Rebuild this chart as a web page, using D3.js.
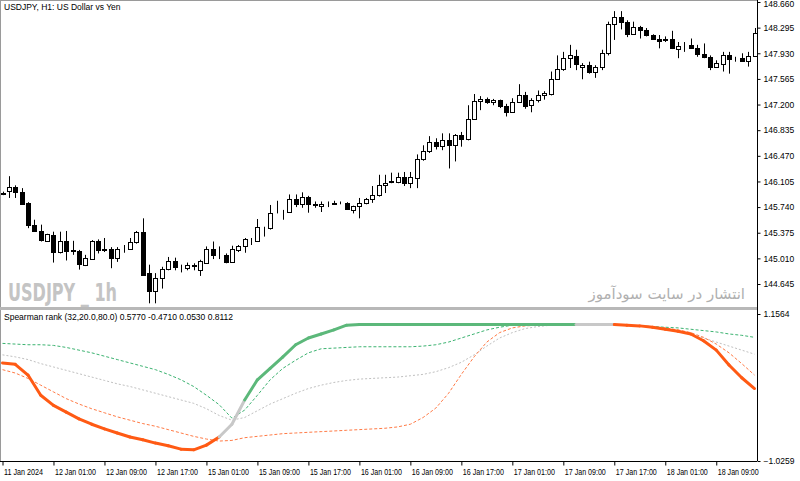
<!DOCTYPE html>
<html>
<head>
<meta charset="utf-8">
<script src="https://cdn.jsdelivr.net/npm/d3@7"></script>
<style>
  body { margin: 0; background: #fff; }
  svg { display: block; }
  text { font-family: "Liberation Sans", Arial, sans-serif; }
</style>
</head>
<body>
<div class="js-chart"></div>
<script>
// USDJPY H1 candles, one per hour, bar 0 = 11 Jan 2024 17:00
let opens  = [145.93,145.97,146.03,145.95,145.80,145.49,145.40,145.26,145.34,145.10,145.26,145.13,145.12,144.92,145.00,145.26,145.13,145.15,145.01,145.15,
              145.14,145.25,145.38,144.80,144.55,144.73,144.86,144.97,144.88,144.87,144.90,144.85,144.95,145.15,145.06,145.06,144.96,145.13,145.18,145.27,
              145.26,145.45,145.44,145.66,145.67,145.67,145.85,145.78,145.88,145.79,145.76,145.79,145.79,145.80,145.80,145.70,145.75,145.80,145.85,145.91,
              146.05,146.10,146.10,146.17,146.09,146.16,146.43,146.54,146.67,146.61,146.69,146.63,146.76,146.71,147.00,147.25,147.28,147.24,147.27,147.18,
              147.10,147.24,147.33,147.19,147.26,147.33,147.35,147.57,147.70,147.86,147.89,147.73,147.76,147.67,147.73,147.93,148.34,148.44,148.38,148.21,
              148.31,148.26,148.19,148.14,148.12,148.13,147.99,148.04,148.05,148.01,147.92,147.88,147.74,147.78,147.90,147.85,147.86,147.82,147.89];
let highs  = [145.96,146.18,146.05,146.01,145.81,145.56,145.49,145.36,145.39,145.39,145.40,145.26,145.13,145.06,145.27,145.28,145.30,145.17,145.17,145.20,
              145.30,145.40,145.58,144.92,144.80,144.89,145.03,145.02,144.92,144.95,144.94,144.99,145.18,145.25,145.18,145.08,145.19,145.20,145.30,145.30,
              145.57,145.46,145.77,145.83,145.70,145.92,145.92,145.95,145.90,145.82,145.82,145.82,145.83,145.82,145.81,145.76,145.87,145.87,146.04,146.20,
              146.20,146.23,146.23,146.24,146.24,146.49,146.62,146.75,146.72,146.79,146.79,146.78,146.81,147.19,147.35,147.32,147.30,147.28,147.27,147.21,
              147.29,147.49,147.38,147.29,147.40,147.39,147.67,147.90,147.95,148.05,147.98,147.79,147.81,147.76,147.98,148.38,148.53,148.53,148.40,148.38,
              148.32,148.29,148.20,148.19,148.17,148.25,148.09,148.09,148.14,148.05,148.07,147.90,147.83,147.95,147.95,147.88,147.93,147.95,148.29];
let lows   = [145.91,145.87,145.87,145.78,145.44,145.39,145.25,145.25,144.95,145.08,144.98,145.06,144.85,144.90,144.99,145.08,145.10,144.87,144.96,145.09,
              145.13,145.22,144.76,144.37,144.37,144.58,144.84,144.84,144.81,144.84,144.84,144.76,144.94,145.00,145.00,144.94,144.95,145.10,145.09,145.20,
              145.25,145.32,145.42,145.65,145.56,145.66,145.74,145.73,145.66,145.73,145.67,145.74,145.77,145.78,145.70,145.65,145.58,145.78,145.80,145.89,
              145.94,146.08,146.08,146.04,146.01,146.01,146.40,146.51,146.56,146.55,146.29,146.39,146.60,146.69,146.98,147.12,147.21,147.19,147.15,147.03,
              147.09,147.23,147.14,147.09,147.23,147.27,147.33,147.56,147.68,147.72,147.69,147.56,147.64,147.58,147.69,147.90,148.12,148.27,148.16,148.20,
              148.14,148.17,148.12,148.00,148.09,147.99,147.86,147.95,148.00,147.88,147.86,147.69,147.72,147.67,147.64,147.81,147.81,147.74,147.90];
let closes = [145.94,146.03,145.96,145.79,145.49,145.40,145.27,145.35,145.10,145.26,145.12,145.12,144.93,145.01,145.26,145.13,145.14,145.01,145.15,145.14,
              145.25,145.39,144.77,144.55,144.73,144.86,144.97,144.88,144.88,144.91,144.91,144.97,145.15,145.06,145.06,144.96,145.14,145.18,145.28,145.27,
              145.45,145.45,145.66,145.66,145.67,145.85,145.78,145.88,145.78,145.77,145.79,145.79,145.80,145.80,145.71,145.75,145.80,145.86,145.91,146.05,
              146.09,146.11,146.17,146.09,146.17,146.43,146.54,146.66,146.61,146.70,146.63,146.77,146.71,147.00,147.25,147.28,147.23,147.27,147.18,147.10,
              147.24,147.33,147.18,147.26,147.33,147.36,147.57,147.70,147.86,147.90,147.78,147.76,147.66,147.74,147.94,148.34,148.44,148.38,148.21,148.31,
              148.26,148.19,148.14,148.11,148.13,148.00,148.04,148.04,148.01,147.92,147.87,147.74,147.79,147.90,147.85,147.85,147.82,147.89,148.22];

let priceTicks = [148.660,148.295,147.930,147.565,147.200,146.835,146.470,146.105,145.740,145.375,145.010,144.645];
let timeTickBars = [0,8,16,24,32,40,48,56,64,72,80,88,96,104,112];
let timeLabels = ["11 Jan 2024","12 Jan 01:00","12 Jan 09:00","12 Jan 17:00","15 Jan 01:00","15 Jan 09:00","15 Jan 17:00","16 Jan 01:00",
                  "16 Jan 09:00","16 Jan 17:00","17 Jan 01:00","17 Jan 09:00","17 Jan 17:00","18 Jan 01:00","18 Jan 09:00"];

// Spearman rank (0,2,...,118)
let rankBars = d3.range(0, 119, 2);
let rankMain   = [0.43,0.41,0.25,-0.05,-0.20,-0.30,-0.40,-0.48,-0.55,-0.61,-0.67,-0.71,-0.76,-0.80,-0.85,-0.86,-0.79,-0.67,-0.48,-0.12,
                  0.18,0.35,0.52,0.70,0.80,0.86,0.92,0.99,1.00,1.00,1.00,1.00,1.00,1.00,1.00,1.00,1.00,1.00,1.00,1.00,
                  1.00,1.00,1.00,1.00,1.00,1.00,1.00,1.00,1.00,0.99,0.98,0.96,0.93,0.90,0.86,0.76,0.62,0.40,0.21,0.05];
// 1 = rising (green), -1 = falling (orange), 0 = neutral
let rankTrend  = [-1,-1,-1,-1,-1,-1,-1,-1,-1,-1,-1,-1,-1,-1,-1,-1,-1,-1,0,0,
                  1,1,1,1,1,1,1,1,1,1,1,1,1,1,1,1,1,1,1,1,
                  1,1,1,1,1,1,0,0,0,-1,-1,-1,-1,-1,-1,-1,-1,-1,-1,-1];
let rankGreen  = [0.72,0.71,0.70,0.70,0.69,0.66,0.62,0.58,0.53,0.48,0.43,0.38,0.33,0.26,0.18,0.08,-0.05,-0.19,-0.39,-0.27,
                  -0.05,0.18,0.35,0.47,0.58,0.64,0.65,0.66,0.67,0.67,0.67,0.67,0.67,0.68,0.70,0.74,0.80,0.86,0.92,0.96,
                  0.99,0.99,0.99,0.99,0.99,0.99,0.99,0.99,0.99,0.99,0.98,0.97,0.96,0.95,0.93,0.91,0.89,0.86,0.84,0.81];
let rankGray   = [0.55,0.52,0.48,0.42,0.37,0.32,0.27,0.22,0.17,0.12,0.08,0.03,-0.02,-0.07,-0.12,-0.17,-0.25,-0.35,-0.42,-0.38,
                  -0.28,-0.18,-0.10,-0.02,0.05,0.10,0.14,0.17,0.19,0.20,0.21,0.22,0.24,0.26,0.30,0.36,0.44,0.55,0.68,0.80,
                  0.88,0.94,0.97,0.99,0.99,0.99,0.99,0.99,0.99,0.99,0.98,0.96,0.93,0.90,0.86,0.80,0.74,0.68,0.62,0.56];
let rankOrange = [0.33,0.28,0.20,0.10,0.00,-0.10,-0.18,-0.25,-0.31,-0.37,-0.42,-0.47,-0.51,-0.56,-0.61,-0.66,-0.70,-0.73,-0.72,-0.68,
                  -0.66,-0.64,-0.62,-0.61,-0.60,-0.59,-0.58,-0.57,-0.56,-0.55,-0.54,-0.52,-0.48,-0.38,-0.24,-0.02,0.26,0.52,0.74,0.88,
                  0.95,0.98,0.99,0.99,0.99,0.99,0.99,0.99,0.99,0.99,0.98,0.97,0.95,0.92,0.88,0.81,0.71,0.58,0.42,0.25];

let width = 800, height = 481;
let axisX = 757;
let mainTop = 2, mainBottom = 284;
let subTop = 314, subBottom = 461;

let svg = d3.select(".js-chart").append("svg")
    .attr("width", width)
    .attr("height", height);

let x = d3.scaleLinear().domain([0, opens.length - 1]).range([2.5, 754.5]);
let y = d3.scaleLinear().domain([144.645, 148.660]).range([mainBottom, mainTop]);
let yr = d3.scaleLinear().domain([-1.0259, 1.1564]).range([subBottom, subTop]);

// frames
svg.append("rect").attr("x", 0.5).attr("y", 0.5).attr("width", axisX).attr("height", 307)
    .attr("fill", "none").attr("stroke", "#9a9a9a");
svg.append("rect").attr("x", 0).attr("y", 307).attr("width", axisX + 1).attr("height", 3).attr("fill", "#b8b8b8");
svg.append("line").attr("x1", 0.5).attr("x2", 0.5).attr("y1", 310).attr("y2", 461).attr("stroke", "#9a9a9a");

// watermarks
svg.append("text").attr("x", 8).attr("y", 301)
    .attr("textLength", 109).attr("lengthAdjust", "spacingAndGlyphs")
    .style("font-family", "'Liberation Sans Narrow','DejaVu Sans Condensed',sans-serif")
    .style("font-weight", "bold").style("font-size", "24px")
    .attr("fill", "#c4c4c4").text("USDJPY _ 1h");
svg.append("text").attr("x", 745).attr("y", 299)
    .attr("text-anchor", "start").attr("direction", "rtl")
    .style("font-family", "'DejaVu Sans',sans-serif")
    .style("font-size", "15px").attr("fill", "#b0b0b0")
    .text("انتشار در سایت سودآموز");

// candles
let main = svg.append("g").attr("clip-path", "url(#clipMain)");
svg.append("clipPath").attr("id", "clipMain").append("rect")
    .attr("x", 1).attr("y", 1).attr("width", axisX - 1).attr("height", 305);

let bars = main.selectAll("g.bar")
    .data(opens.map((o, i) => ({i: i, o: o, h: highs[i], l: lows[i], c: closes[i]})))
    .join("g").attr("class", "bar");

bars.append("line")
    .attr("x1", d => Math.round(x(d.i)) + 0.5)
    .attr("x2", d => Math.round(x(d.i)) + 0.5)
    .attr("y1", d => y(d.h))
    .attr("y2", d => y(d.l))
    .attr("stroke", "#000");

bars.append("rect")
    .attr("x", d => Math.round(x(d.i)) - 1.5)
    .attr("width", 4)
    .attr("y", d => Math.round(y(Math.max(d.o, d.c))) + 0.5)
    .attr("height", d => Math.max(0, Math.round(y(Math.min(d.o, d.c))) - Math.round(y(Math.max(d.o, d.c)))))
    .attr("fill", d => d.c >= d.o ? "#fff" : "#000")
    .attr("stroke", "#000");

// title
svg.append("text").attr("x", 4).attr("y", 10).style("font-size", "8.5px").attr("fill", "#000")
    .text("USDJPY, H1:  US Dollar vs Yen");

// indicator lines
let sub = svg.append("g");
let line = d3.line().x((d, k) => x(rankBars[k])).y(d => yr(d));

sub.append("path").attr("d", line(rankGray)).attr("fill", "none")
    .attr("stroke", "#c0c0c0").attr("stroke-dasharray", "2,2");
sub.append("path").attr("d", line(rankOrange)).attr("fill", "none")
    .attr("stroke", "#ff7a45").attr("stroke-dasharray", "3,2");
sub.append("path").attr("d", line(rankGreen)).attr("fill", "none")
    .attr("stroke", "#3cb371").attr("stroke-dasharray", "3,2");

let trendColor = {"1": "#5cb87a", "-1": "#ff5a14", "0": "#c8c8c8"};
let segs = d3.pairs(rankMain.map((v, k) => [x(rankBars[k]), yr(v), rankTrend[k]]));
sub.selectAll("line.seg").data(segs).join("line").attr("class", "seg")
    .attr("x1", d => d[0][0]).attr("y1", d => d[0][1])
    .attr("x2", d => d[1][0]).attr("y2", d => d[1][1])
    .attr("stroke", d => trendColor[d[1][2]])
    .attr("stroke-width", 3).attr("stroke-linecap", "round");

svg.append("text").attr("x", 4).attr("y", 320).style("font-size", "8.5px").attr("fill", "#000")
    .text("Spearman rank (32,20.0,80.0) 0.5770 -0.4710 0.0530 0.8112");

// price axis
let yAxis = d3.axisRight(y).tickValues(priceTicks).tickFormat(d3.format(".3f")).tickSize(3).tickPadding(3);
let gy = svg.append("g").attr("transform", `translate(${axisX + 0.5},0)`).call(yAxis);
gy.select(".domain").attr("d", `M0,0V${subBottom}`);
gy.selectAll(".tick text").attr("dy", (d, k) => k === 0 ? "0.55em" : "0.32em");

let rAxis = d3.axisRight(yr).tickValues([1.1564, -1.0259]).tickFormat(d3.format(".4f")).tickSize(3).tickPadding(3);
svg.append("g").attr("transform", `translate(${axisX + 0.5},0)`).call(rAxis).select(".domain").remove();

// time axis
let xAxis = d3.axisBottom(x).tickValues(timeTickBars).tickFormat((d, k) => timeLabels[k]).tickSize(4).tickPadding(3);
let gx = svg.append("g").attr("transform", `translate(0,${subBottom + 0.5})`).call(xAxis);
gx.select(".domain").attr("d", `M0,0H${axisX}`);
gx.selectAll(".tick text").attr("text-anchor", "start").attr("dx", 1)
    .attr("textLength", (d, k) => k === 0 ? 39 : 41).attr("lengthAdjust", "spacingAndGlyphs");

svg.selectAll(".tick text").style("font-size", "8.5px").style("font-family", "'Liberation Sans',Arial,sans-serif").attr("fill", "#000");
gx.selectAll(".tick text").style("font-size", "9px");
svg.selectAll(".tick line, .domain").attr("stroke", "#000");
</script>
</body>
</html>
